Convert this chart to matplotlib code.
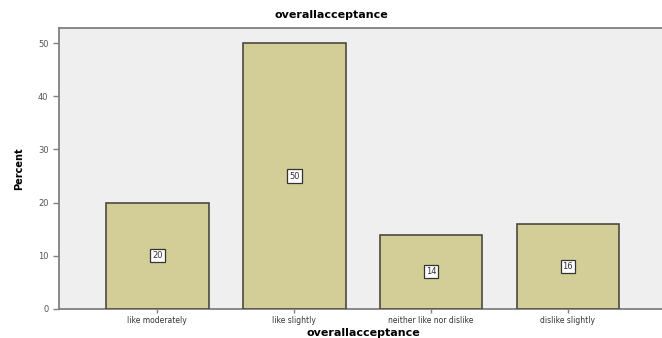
import numpy as np
import matplotlib
matplotlib.use('Agg')
import matplotlib.pyplot as plt

categories = ['like moderately', 'like slightly', 'neither like nor dislike', 'dislike slightly']
percent = [20, 50, 14, 16]
yticks = [0, 10, 20, 30, 40, 50]

BG = '#efefef'
BAR = '#d3cd97'
EDGE = '#4a4a40'
AXIS = '#808080'

fig = plt.figure(figsize=(6.62, 3.38), dpi=100)
ax = fig.add_axes([0.0891, 0.0858, 0.93, 0.831])
ax.set_facecolor(BG)

x = np.arange(len(categories))
ax.bar(x, percent, width=0.75, color=BAR, edgecolor=EDGE, linewidth=1.2, zorder=3)

# value boxes at mid-height of each bar
for xi, v in zip(x, percent):
    ax.text(xi, v / 2, str(v), ha='center', va='center', fontsize=6, color='#333333',
            zorder=4, bbox=dict(boxstyle='square,pad=0.25', facecolor='white',
                                edgecolor='#333333', linewidth=0.9))

ax.set_xlim(-0.719, 3.68 + 0.1)
ax.set_ylim(0, 52.8)
ax.set_yticks(yticks)
ax.set_xticks(x)
ax.set_xticklabels(categories, fontsize=5.5, color='#333333')
ax.tick_params(axis='y', labelsize=6, colors=AXIS, labelcolor='#555555', length=4, width=1)
ax.tick_params(axis='x', colors=AXIS, labelcolor='#333333', length=3, width=1, pad=2)

for side in ['left', 'top', 'bottom']:
    ax.spines[side].set_color(AXIS)
    ax.spines[side].set_linewidth(1.3)
ax.spines['right'].set_visible(False)

ax.set_ylabel('Percent', fontsize=7, fontweight='bold', labelpad=10)
ax.set_xlabel('overallacceptance', fontsize=8, fontweight='bold', labelpad=3)
ax.xaxis.set_label_coords((363.5 - 59) / (662 * 0.93), -0.068)
fig.text(0.5, 0.955, 'overallacceptance', ha='center', va='center',
         fontsize=8, fontweight='bold')

fig.savefig('out.png', dpi=100)
